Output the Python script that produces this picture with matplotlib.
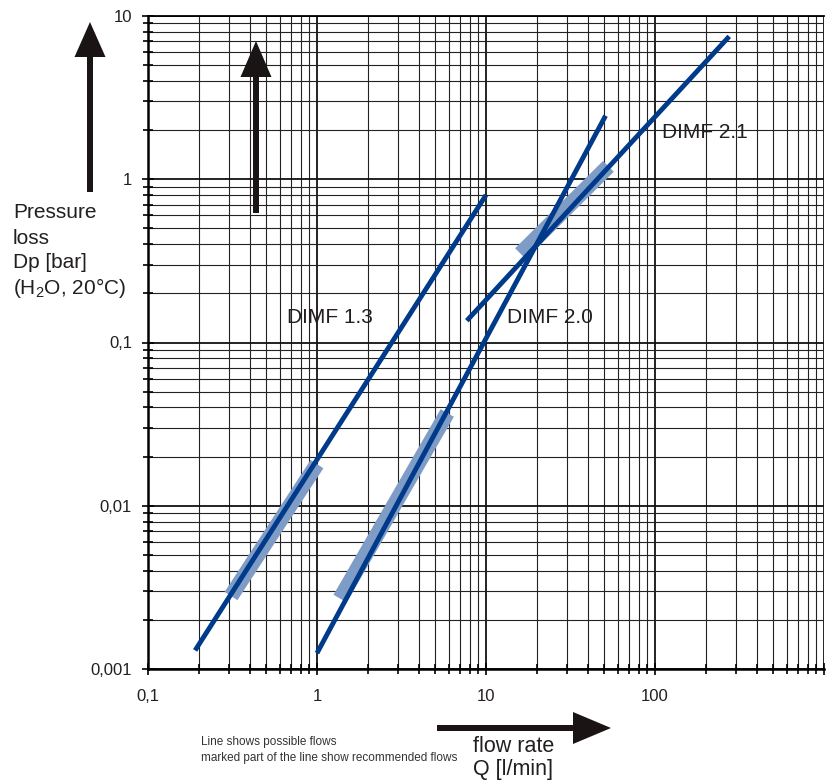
import matplotlib.pyplot as plt
from matplotlib.patches import Polygon
from matplotlib.ticker import FixedLocator, FixedFormatter, NullFormatter

plt.rcParams['font.family'] = ['Liberation Sans', 'DejaVu Sans']
plt.rcParams['mathtext.fontset'] = 'custom'
plt.rcParams['mathtext.rm'] = 'Liberation Sans'

# lines (possible flows) - end points
q_13 = [0.19, 10.0]
dp_13 = [0.0013, 0.8]
q_20 = [1.0, 51.0]
dp_20 = [0.00125, 2.45]
q_21 = [7.7, 275.0]
dp_21 = [0.136, 7.5]

# recommended parts of the lines
q_13_rec = [0.31, 1.0]
dp_13_rec = [0.0028, 0.018]
q_20_rec = [1.37, 5.9]
dp_20_rec = [0.0027, 0.037]
q_21_rec = [16.0, 53.0]
dp_21_rec = [0.35, 1.2]

labels = ["DIMF 1.3", "DIMF 2.0", "DIMF 2.1"]
label_pos = [(0.665, 0.142), (13.3, 0.142), (110.0, 1.94)]

y_ticks = [0.001, 0.01, 0.1, 1, 10]
y_ticklabels = ["0,001", "0,01", "0,1", "1", "10"]
x_ticks = [0.1, 1, 10, 100, 1000]
x_ticklabels = ["0,1", "1", "10", "100", ""]

ylabel_lines = ["Pressure", "loss", "Dp [bar]", "(H$_2$O, 20°C)"]

LINE = '#003a8a'
BAND = '#7f9cc6'
TEXT = '#231f20'

fig = plt.figure(figsize=(8.33, 7.82), dpi=100)
ax = fig.add_axes([148 / 833, 1 - 669 / 782, 676 / 833, 653 / 782])
ax.set_xscale('log')
ax.set_yscale('log')
ax.set_xlim(0.1, 1000)
ax.set_ylim(0.001, 10)

minor = [m * 10.0 ** e for e in range(-4, 4) for m in range(2, 10)]
ax.xaxis.set_major_locator(FixedLocator(x_ticks))
ax.xaxis.set_major_formatter(FixedFormatter(x_ticklabels))
ax.yaxis.set_major_locator(FixedLocator(y_ticks))
ax.yaxis.set_major_formatter(FixedFormatter(y_ticklabels))
ax.xaxis.set_minor_locator(FixedLocator(minor))
ax.yaxis.set_minor_locator(FixedLocator(minor))
ax.xaxis.set_minor_formatter(NullFormatter())
ax.yaxis.set_minor_formatter(NullFormatter())

ax.grid(True, which='major', color='#111111', linewidth=1.3)
ax.grid(True, which='minor', color='#222222', linewidth=0.8)
ax.set_axisbelow(True)
ax.tick_params(axis='both', which='both', direction='inout', color='black',
               width=1.2, labelsize=12, labelcolor=TEXT, top=False, right=False)
ax.tick_params(axis='both', which='major', length=9)
ax.tick_params(axis='both', which='minor', length=7)
ax.tick_params(axis='x', which='major', pad=10)
ax.tick_params(axis='y', which='major', pad=7)
for s in ['left', 'bottom']:
    ax.spines[s].set_linewidth(1.8)
ax.spines['top'].set_linewidth(1.3)
ax.spines['right'].set_visible(False)

for q, dp in [(q_13_rec, dp_13_rec), (q_20_rec, dp_20_rec), (q_21_rec, dp_21_rec)]:
    ax.plot(q, dp, color=BAND, linewidth=11, solid_capstyle='butt', zorder=3)
for q, dp in [(q_13, dp_13), (q_20, dp_20), (q_21, dp_21)]:
    ax.plot(q, dp, color=LINE, linewidth=3.5, solid_capstyle='butt', zorder=4)

for txt, (x, y) in zip(labels, label_pos):
    ax.text(x, y, txt, fontsize=15, color=TEXT, ha='left', va='center',
            zorder=5)

# overlay in pixel coordinates for arrows and free text
ov = fig.add_axes([0, 0, 1, 1], facecolor='none')
ov.set_xlim(0, 833)
ov.set_ylim(782, 0)
ov.axis('off')

ARROW = '#1a1414'


def arrow_up(x, y_tip, y_base, y_end):
    ov.add_patch(Polygon([(x - 15.5, y_base), (x, y_tip), (x + 15.5, y_base)],
                         closed=True, color=ARROW, lw=0))
    ov.add_patch(Polygon([(x - 3, y_base - 1), (x + 3, y_base - 1),
                          (x + 3, y_end), (x - 3, y_end)],
                         closed=True, color=ARROW, lw=0))


arrow_up(90, 22, 57, 192)
arrow_up(256, 41, 77, 213)
ov.add_patch(Polygon([(573, 712), (611, 728), (573, 744)], closed=True,
                     color=ARROW, lw=0))
ov.add_patch(Polygon([(437, 725), (574, 725), (574, 731), (437, 731)],
                     closed=True, color=ARROW, lw=0))

for i, line in enumerate(ylabel_lines):
    ov.text(13, 218.5 + 25 * i, line, fontsize=15, color=TEXT,
            ha='left', va='baseline')
ov.text(473, 758, "flow rate\nQ [l/min]", fontsize=15.5, color=TEXT,
        ha='left', va='center', linespacing=1.15)
ov.text(201, 750, "Line shows possible flows\nmarked part of the line show recommended flows",
        fontsize=8.5, color='#333333', ha='left', va='center', linespacing=1.4)

fig.savefig("out.png", dpi=100)
